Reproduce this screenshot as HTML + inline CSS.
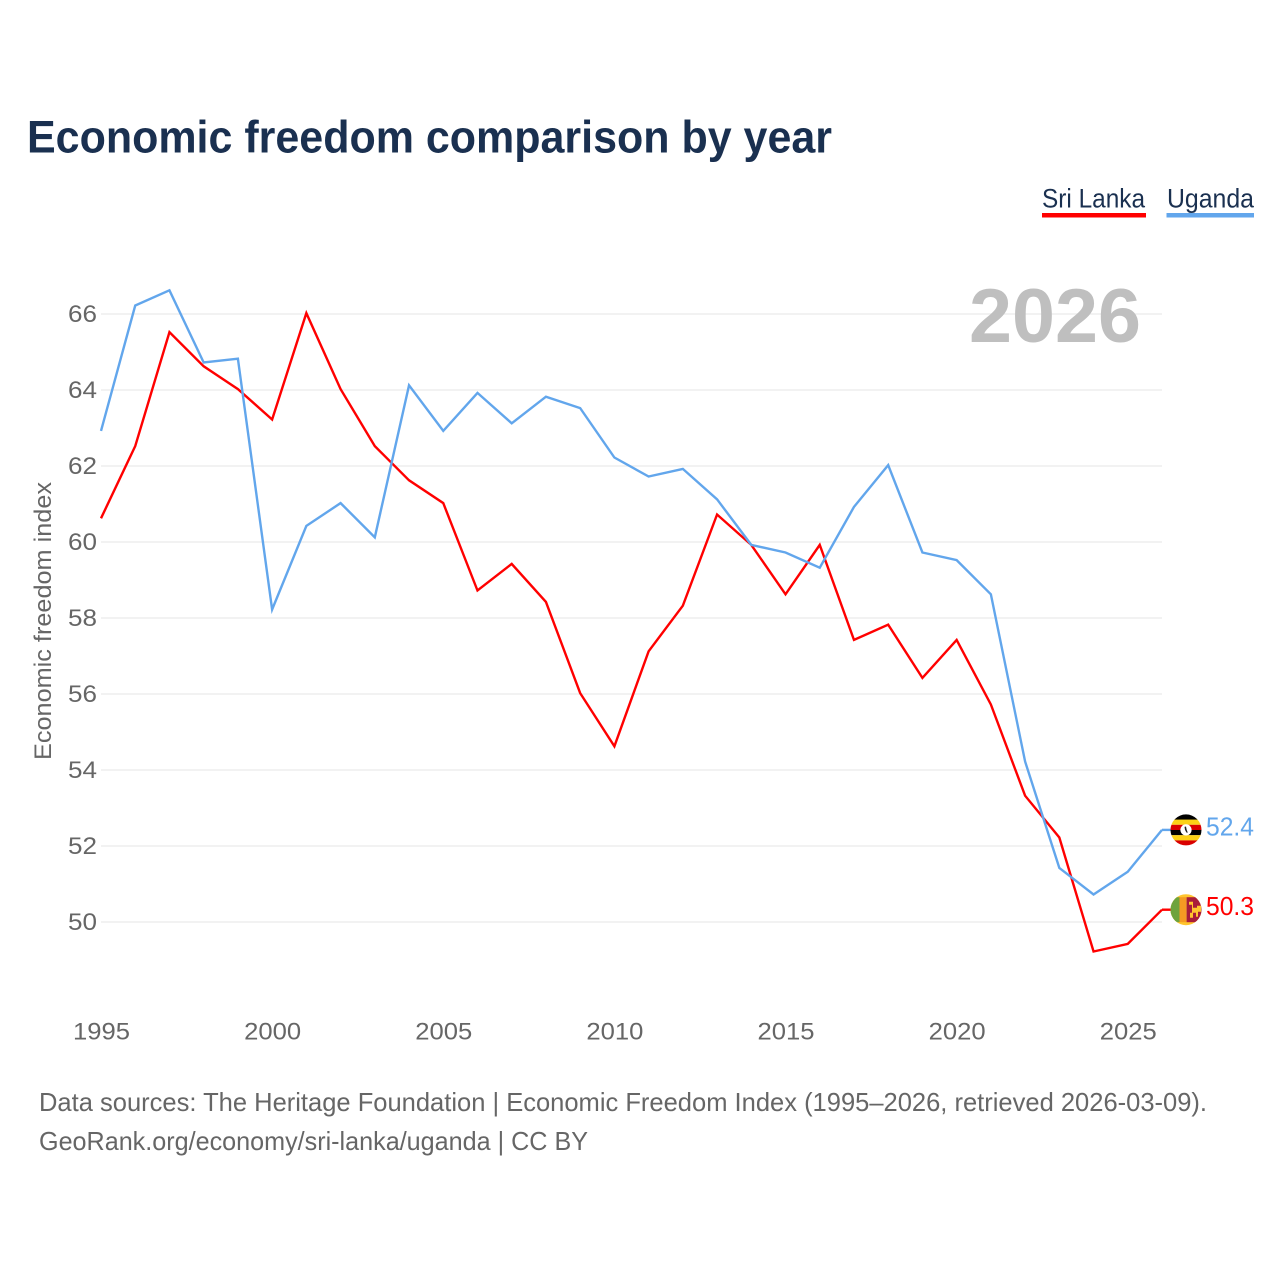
<!DOCTYPE html>
<html lang="en">
<head>
<meta charset="utf-8">
<title>Economic freedom comparison by year</title>
<style>
html,body{margin:0;padding:0;background:#fff;}
svg{display:block;font-family:"Liberation Sans",sans-serif;}
</style>
</head>
<body>
<svg id="chart" width="1280" height="1280" viewBox="0 0 1280 1280" xmlns="http://www.w3.org/2000/svg">
  <defs>
    <clipPath id="clip-flag"><circle cx="0" cy="0" r="15.5"/></clipPath>
  </defs>
  <rect x="0" y="0" width="1280" height="1280" fill="#ffffff"/>
  <text x="27" y="152.5" font-size="45.5" font-weight="700" fill="#1a3050" textLength="805" lengthAdjust="spacingAndGlyphs">Economic freedom comparison by year</text>
  <g id="legend">
    <g>
      <text x="1042" y="207.5" font-size="26.5" fill="#1a3050" textLength="103" lengthAdjust="spacingAndGlyphs">Sri Lanka</text>
      <rect x="1042" y="213" width="104" height="4.5" fill="#ff0000"/>
    </g>
    <g>
      <text x="1167" y="207.5" font-size="26.5" fill="#1a3050" textLength="87" lengthAdjust="spacingAndGlyphs">Uganda</text>
      <rect x="1166.5" y="213" width="87.5" height="4.5" fill="#62a6ec"/>
    </g>
  </g>
  <text transform="translate(51,760) rotate(-90)" x="0" y="0" font-size="24.5" fill="#666666" textLength="278" lengthAdjust="spacingAndGlyphs">Economic freedom index</text>
  <g id="grid"></g>
  <g id="y-ticks"></g>
  <g id="x-ticks"></g>
  <text id="year-label" x="969" y="342" font-size="76" font-weight="700" fill="#bfbfbf" textLength="172" lengthAdjust="spacingAndGlyphs"></text>
  <g id="series"></g>
  <g id="end-labels"></g>
  <g id="flag-uganda" clip-path="url(#clip-flag)">
    <rect x="-16" y="-16" width="32" height="6" fill="#000000"/>
    <rect x="-16" y="-10.3" width="32" height="5.2" fill="#fcd116"/>
    <rect x="-16" y="-5.1" width="32" height="5.2" fill="#d90000"/>
    <rect x="-16" y="0.1" width="32" height="5.2" fill="#000000"/>
    <rect x="-16" y="5.3" width="32" height="5.2" fill="#fcd116"/>
    <rect x="-16" y="10.5" width="32" height="6" fill="#d90000"/>
    <circle cx="0" cy="0" r="5.6" fill="#ffffff"/>
    <path d="M-1.5,-3 L0,-3.4 L0.6,-0.5 L1.8,2.8 L0.4,2.6 L-1,0 Z" fill="#222222"/>
  </g>
  <g id="flag-sri-lanka" clip-path="url(#clip-flag)">
    <rect x="-16" y="-16" width="32" height="32" fill="#ffc52e"/>
    <rect x="-16" y="-12.5" width="9.5" height="25" fill="#6ea33c"/>
    <rect x="-6.5" y="-12.5" width="6.5" height="25" fill="#f59a23"/>
    <rect x="0.5" y="-12.5" width="16" height="25" fill="#a81d3a"/>
    <path d="M3,-8 H7 V-2 H11 V-4 H15 V2 H12 V7 H10 V3 H7 V8 H4 V3 H6 V-5 H3 Z" fill="#ffc52e"/>
  </g>
  <text x="39" y="1111" font-size="26" fill="#666666" textLength="1168" lengthAdjust="spacingAndGlyphs">Data sources: The Heritage Foundation | Economic Freedom Index (1995–2026, retrieved 2026-03-09).</text>
  <text x="39" y="1150" font-size="26" fill="#666666" textLength="549" lengthAdjust="spacingAndGlyphs">GeoRank.org/economy/sri-lanka/uganda | CC BY</text>
</svg>
<script>
const years = [1995,1996,1997,1998,1999,2000,2001,2002,2003,2004,2005,2006,2007,2008,2009,2010,2011,2012,2013,2014,2015,2016,2017,2018,2019,2020,2021,2022,2023,2024,2025,2026];
const sriLanka = [60.6,62.5,65.5,64.6,64.0,63.2,66.0,64.0,62.5,61.6,61.0,58.7,59.4,58.4,56.0,54.6,57.1,58.3,60.7,59.9,58.6,59.9,57.4,57.8,56.4,57.4,55.7,53.3,52.2,49.2,49.4,50.3];
const uganda = [62.9,66.2,66.6,64.7,64.8,58.2,60.4,61.0,60.1,64.1,62.9,63.9,63.1,63.8,63.5,62.2,61.7,61.9,61.1,59.9,59.7,59.3,60.9,62.0,59.7,59.5,58.6,54.2,51.4,50.7,51.3,52.4];
const yTicks = [50,52,54,56,58,60,62,64,66];
const xTicks = [1995,2000,2005,2010,2015,2020,2025];

const NS = 'http://www.w3.org/2000/svg';
const xScale = function (year) { return 101 + (year - 1995) * (1162 - 101) / 31; };
const yScale = function (value) { return 922 - (value - 50) * 38; };
const yMark = function (value) { return yScale(value) - 0.9; };

function make(tag, parent) {
  const el = document.createElementNS(NS, tag);
  parent.appendChild(el);
  return el;
}

const grid = document.getElementById('grid');
const yTickGroup = document.getElementById('y-ticks');
yTicks.forEach(function (tick) {
  const line = make('line', grid);
  
  
  line.setAttribute('x1', 101);
  line.setAttribute('x2', 1162);
  line.setAttribute('y1', yScale(tick));
  line.setAttribute('y2', yScale(tick));
  line.setAttribute('stroke', '#eeeeee');
  line.setAttribute('stroke-width', 1.6);
  const label = make('text', yTickGroup);
  
  
  label.setAttribute('x', 68);
  label.setAttribute('y', yScale(tick) + 8);
  label.setAttribute('font-size', 24.5);
  label.setAttribute('fill', '#666666');
  label.setAttribute('textLength', 29);
  label.setAttribute('lengthAdjust', 'spacingAndGlyphs');
  label.textContent = String(tick);
});

const xTickGroup = document.getElementById('x-ticks');
xTicks.forEach(function (tick) {
  const label = make('text', xTickGroup);
  
  
  label.setAttribute('x', xScale(tick) - 28);
  label.setAttribute('y', 1039.5);
  label.setAttribute('font-size', 24.5);
  label.setAttribute('fill', '#666666');
  label.setAttribute('textLength', 57);
  label.setAttribute('lengthAdjust', 'spacingAndGlyphs');
  label.textContent = String(tick);
});

document.getElementById('year-label').textContent = String(years[years.length - 1]);

function pointsFor(values) {
  return values.map(function (v, i) {
    return xScale(years[i]).toFixed(2) + ',' + yMark(v).toFixed(2);
  }).join(' ');
}

const seriesGroup = document.getElementById('series');

const lineSri = make('polyline', seriesGroup);


lineSri.setAttribute('points', pointsFor(sriLanka));
lineSri.setAttribute('fill', 'none');
lineSri.setAttribute('stroke', '#ff0000');
lineSri.setAttribute('stroke-width', 2.4);

const lineUganda = make('polyline', seriesGroup);


lineUganda.setAttribute('points', pointsFor(uganda));
lineUganda.setAttribute('fill', 'none');
lineUganda.setAttribute('stroke', '#62a6ec');
lineUganda.setAttribute('stroke-width', 2.4);

const endGroup = document.getElementById('end-labels');
const ugandaEnd = uganda[uganda.length - 1];
const sriEnd = sriLanka[sriLanka.length - 1];

const connectorUganda = make('line', endGroup);


connectorUganda.setAttribute('x1', 1162);
connectorUganda.setAttribute('x2', 1172);
connectorUganda.setAttribute('y1', yMark(ugandaEnd));
connectorUganda.setAttribute('y2', yMark(ugandaEnd));
connectorUganda.setAttribute('stroke', '#62a6ec');
connectorUganda.setAttribute('stroke-width', 2.4);

const connectorSri = make('line', endGroup);


connectorSri.setAttribute('x1', 1162);
connectorSri.setAttribute('x2', 1172);
connectorSri.setAttribute('y1', yMark(sriEnd));
connectorSri.setAttribute('y2', yMark(sriEnd));
connectorSri.setAttribute('stroke', '#ff0000');
connectorSri.setAttribute('stroke-width', 2.4);

const labelUganda = make('text', endGroup);


labelUganda.setAttribute('x', 1206);
labelUganda.setAttribute('y', yMark(ugandaEnd) + 5.5);
labelUganda.setAttribute('font-size', 25.5);
labelUganda.setAttribute('fill', '#62a6ec');
labelUganda.setAttribute('textLength', 48);
labelUganda.setAttribute('lengthAdjust', 'spacingAndGlyphs');
labelUganda.textContent = ugandaEnd.toFixed(1);

const labelSri = make('text', endGroup);


labelSri.setAttribute('x', 1206);
labelSri.setAttribute('y', yMark(sriEnd) + 5.5);
labelSri.setAttribute('font-size', 25.5);
labelSri.setAttribute('fill', '#ff0000');
labelSri.setAttribute('textLength', 48);
labelSri.setAttribute('lengthAdjust', 'spacingAndGlyphs');
labelSri.textContent = sriEnd.toFixed(1);

document.getElementById('flag-uganda').setAttribute('transform', 'translate(1186,' + yMark(ugandaEnd) + ')');
document.getElementById('flag-sri-lanka').setAttribute('transform', 'translate(1186,' + yMark(sriEnd) + ')');
</script>
</body>
</html>
